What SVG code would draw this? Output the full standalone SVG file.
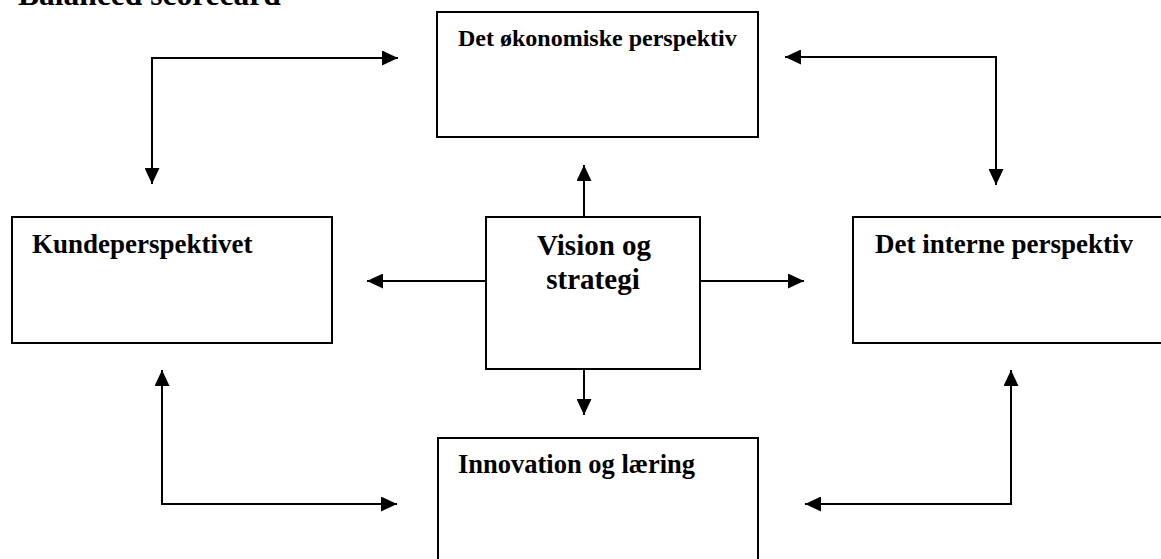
<svg xmlns="http://www.w3.org/2000/svg" width="1161" height="559" viewBox="0 0 1161 559">
<style>
  .box { fill: #ffffff; stroke: #000000; stroke-width: 2; }
  .lbl { font-family: "Liberation Serif", "Times New Roman", serif; font-weight: bold; fill: #000000; }
  .conn { fill: none; stroke: #000000; stroke-width: 2; marker-end: url(#arrow); }
  .both { marker-start: url(#arrow); }
</style>
<defs>
  <marker id="arrow" markerUnits="userSpaceOnUse" markerWidth="16" markerHeight="15" viewBox="0 0 16 15" refX="16" refY="7.5" orient="auto-start-reverse">
    <path d="M0,0 L16,7.5 L0,15 Z" fill="#000000"/>
  </marker>
</defs>
<rect width="1161" height="559" fill="#ffffff"/>
<text class="lbl" x="18" y="5" font-size="31.5">Balanced scorecard</text>
<g id="connectors">
  <path class="conn both" d="M152,184 L152,58 L398,58"/>
  <path class="conn both" d="M785,57 L996,57 L996,185"/>
  <path class="conn both" d="M162,370 L162,504 L397,504"/>
  <path class="conn both" d="M1011,370 L1011,504 L805,504"/>
  <path class="conn" d="M486,281 L367,281"/>
  <path class="conn" d="M700,281 L804,281"/>
  <path class="conn" d="M584,217 L584,165"/>
  <path class="conn" d="M584,369 L584,415"/>
</g>
<g id="node-okonomiske">
  <rect class="box" x="437" y="12" width="321" height="125"/>
  <text class="lbl" x="458" y="46" font-size="24">Det økonomiske perspektiv</text>
</g>
<g id="node-kunde">
  <rect class="box" x="12" y="217" width="320" height="126"/>
  <text class="lbl" x="32" y="253" font-size="27">Kundeperspektivet</text>
</g>
<g id="node-vision">
  <rect class="box" x="486" y="217" width="214" height="152"/>
  <text class="lbl" x="594" y="255" font-size="29" text-anchor="middle">Vision og</text>
  <text class="lbl" x="593" y="289" font-size="29" text-anchor="middle">strategi</text>
</g>
<g id="node-interne">
  <rect class="box" x="853" y="217" width="312" height="126"/>
  <text class="lbl" x="875" y="253" font-size="27">Det interne perspektiv</text>
</g>
<g id="node-innovation">
  <rect class="box" x="438" y="438" width="320" height="130"/>
  <text class="lbl" x="458" y="473" font-size="26.5">Innovation og læring</text>
</g>
</svg>
